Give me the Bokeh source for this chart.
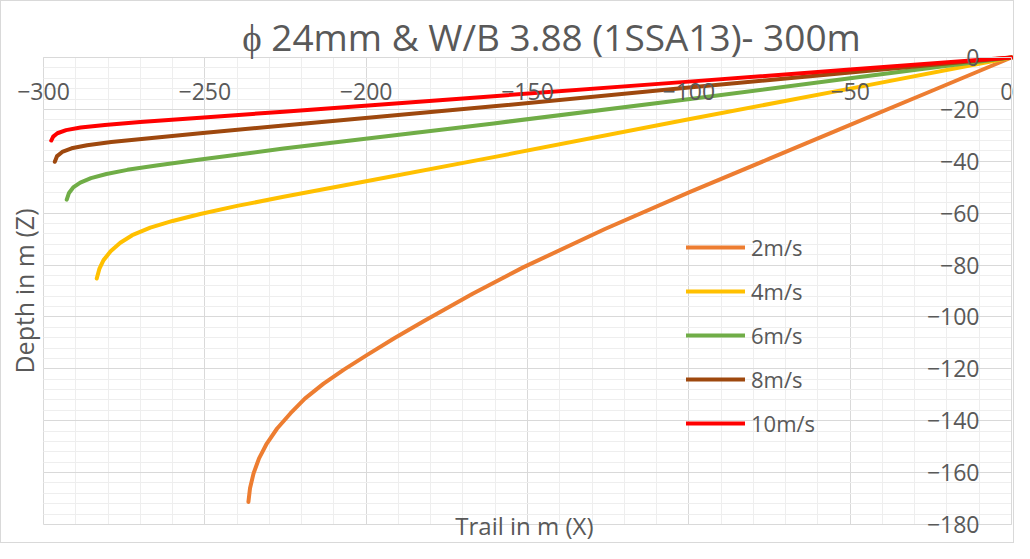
from bokeh.plotting import figure
from bokeh.models import SingleIntervalTicker, Legend, LegendItem, Label, Range1d
from bokeh.embed import file_html
from bokeh.resources import INLINE

TITLE = "\u03d5 24mm & W/B 3.88 (1SSA13)- 300m"
X_LABEL = "Trail in  m (X)"
Y_LABEL = "Depth in m (Z)"

speeds = ["2m/s", "4m/s", "6m/s", "8m/s", "10m/s"]
colors = ["#ED7D31", "#FFC000", "#70AD47", "#9E480E", "#FF0000"]

x_2 = [0, -25, -50, -75, -99.6, -126, -151.2, -167, -182.2, -191.3, -199.8, -206.9, -213.2, -219.0,
       -223.5, -227.6, -230.8, -233.2, -234.9, -236.0, -236.5]
z_2 = [0, -13, -26, -39, -51.8, -66.1, -80.8, -91.1, -101.7, -108.2, -114.7, -120.3, -125.7, -131.5,
       -137.2, -143, -148.8, -154.5, -160.3, -166, -171.3]

x_4 = [0, -50, -100, -160.5, -200, -225.6, -240, -251.4, -260, -266.9, -272.5, -276.2, -279.2, -281.4, -282.7, -283.5]
z_4 = [0, -12, -23.8, -38.4, -47.7, -53.7, -57.2, -60.3, -63, -65.6, -68.5, -71.4, -74.7, -78.1, -81.5, -85.2]

x_6 = [0, -50, -99.6, -160.5, -225.6, -251.4, -265, -274, -280.5, -285.3, -288.6, -290.8, -292.1, -292.8]
z_6 = [0, -8, -16, -25.4, -35.1, -39.3, -41.6, -43.3, -44.9, -46.5, -48.2, -50.1, -52.2, -54.8]

x_8 = [0, -50, -100, -160.5, -225.6, -251.4, -268, -279, -286.5, -291.3, -294.2, -295.8, -296.5]
z_8 = [0, -5.8, -11.6, -18.8, -26.2, -29.2, -31.2, -32.6, -33.8, -35, -36.4, -38, -40.2]

x_10 = [0, -50, -100, -160.5, -225.6, -251.4, -270, -281, -288.5, -293, -295.7, -297, -297.6]
z_10 = [0, -4.65, -9.3, -14.9, -20.9, -23.2, -24.9, -26, -27, -28, -29.2, -30.5, -32]

series_x = [x_2, x_4, x_6, x_8, x_10]
series_z = [z_2, z_4, z_6, z_8, z_10]

FONT = "Open Sans"
TXT = "#595959"

# plot area: x -300..0 , z -180..0 ; frame extended so outside labels are not clipped
p = figure(width=1014, height=543, output_backend="svg", toolbar_location=None,
           x_range=Range1d(-313.02, 1.24), y_range=Range1d(-187.71, 21.585),
           min_border=0, min_border_left=0, min_border_right=0,
           min_border_top=0, min_border_bottom=0)
p.outline_line_color = None
p.background_fill_color = "white"
p.border_fill_color = "white"
p.styles = {"border": "1px solid #d9d9d9"}

# axes
p.xaxis.ticker = SingleIntervalTicker(interval=50, num_minor_ticks=5)
p.yaxis.ticker = SingleIntervalTicker(interval=20, num_minor_ticks=5)
p.xaxis.bounds = (-300, 0)
p.yaxis.bounds = (-180, 0)
for ax in (p.xaxis, p.yaxis):
    ax.fixed_location = 0
    ax.axis_line_color = "#d9d9d9"
    ax.major_tick_line_color = None
    ax.minor_tick_line_color = None
    ax.major_label_text_font = FONT
    ax.major_label_text_font_size = "23px"
    ax.major_label_text_color = TXT
p.xaxis.major_label_standoff = 19
p.yaxis.major_label_standoff = 26

p.xgrid.bounds = (-300, 0)
p.ygrid.bounds = (-180, 0)
try:
    p.xgrid.cross_bounds = (-180, 0)
    p.ygrid.cross_bounds = (-300, 0)
except Exception:
    pass
p.xgrid.grid_line_color = "#d9d9d9"
p.ygrid.grid_line_color = "#d9d9d9"
p.xgrid.minor_grid_line_color = "#eeeeee"
p.ygrid.minor_grid_line_color = "#eeeeee"

items = []
for name, col, xs, zs in zip(speeds, colors, series_x, series_z):
    r = p.line(xs, zs, line_color=col, line_width=4, line_cap="round", line_join="round")
    items.append(LegendItem(label=name, renderers=[r]))

legend = Legend(items=items, location=(685, 106), padding=0, margin=0,
                glyph_width=59, glyph_height=22, label_height=22, spacing=14,
                label_standoff=6, label_text_font=FONT, label_text_font_size="22px",
                label_text_color=TXT, background_fill_alpha=0, border_line_alpha=0)
p.add_layout(legend)

p.add_layout(Label(x=-150, y=0, x_offset=24, y_offset=21, text=TITLE, text_align="center",
                   text_baseline="alphabetic", text_font=FONT, text_font_size="37px",
                   text_color=TXT))
p.add_layout(Label(x=-150, y=-180, y_offset=-1, text=X_LABEL, text_align="center",
                   text_baseline="middle", text_font=FONT, text_font_size="24px",
                   text_color=TXT))
p.add_layout(Label(x=-300, y=-90, x_offset=-20, text=Y_LABEL, angle=90, angle_units="deg",
                   text_align="center", text_baseline="middle", text_font=FONT,
                   text_font_size="25px", text_color=TXT))

open("out.html", "w").write(file_html(p, INLINE))
